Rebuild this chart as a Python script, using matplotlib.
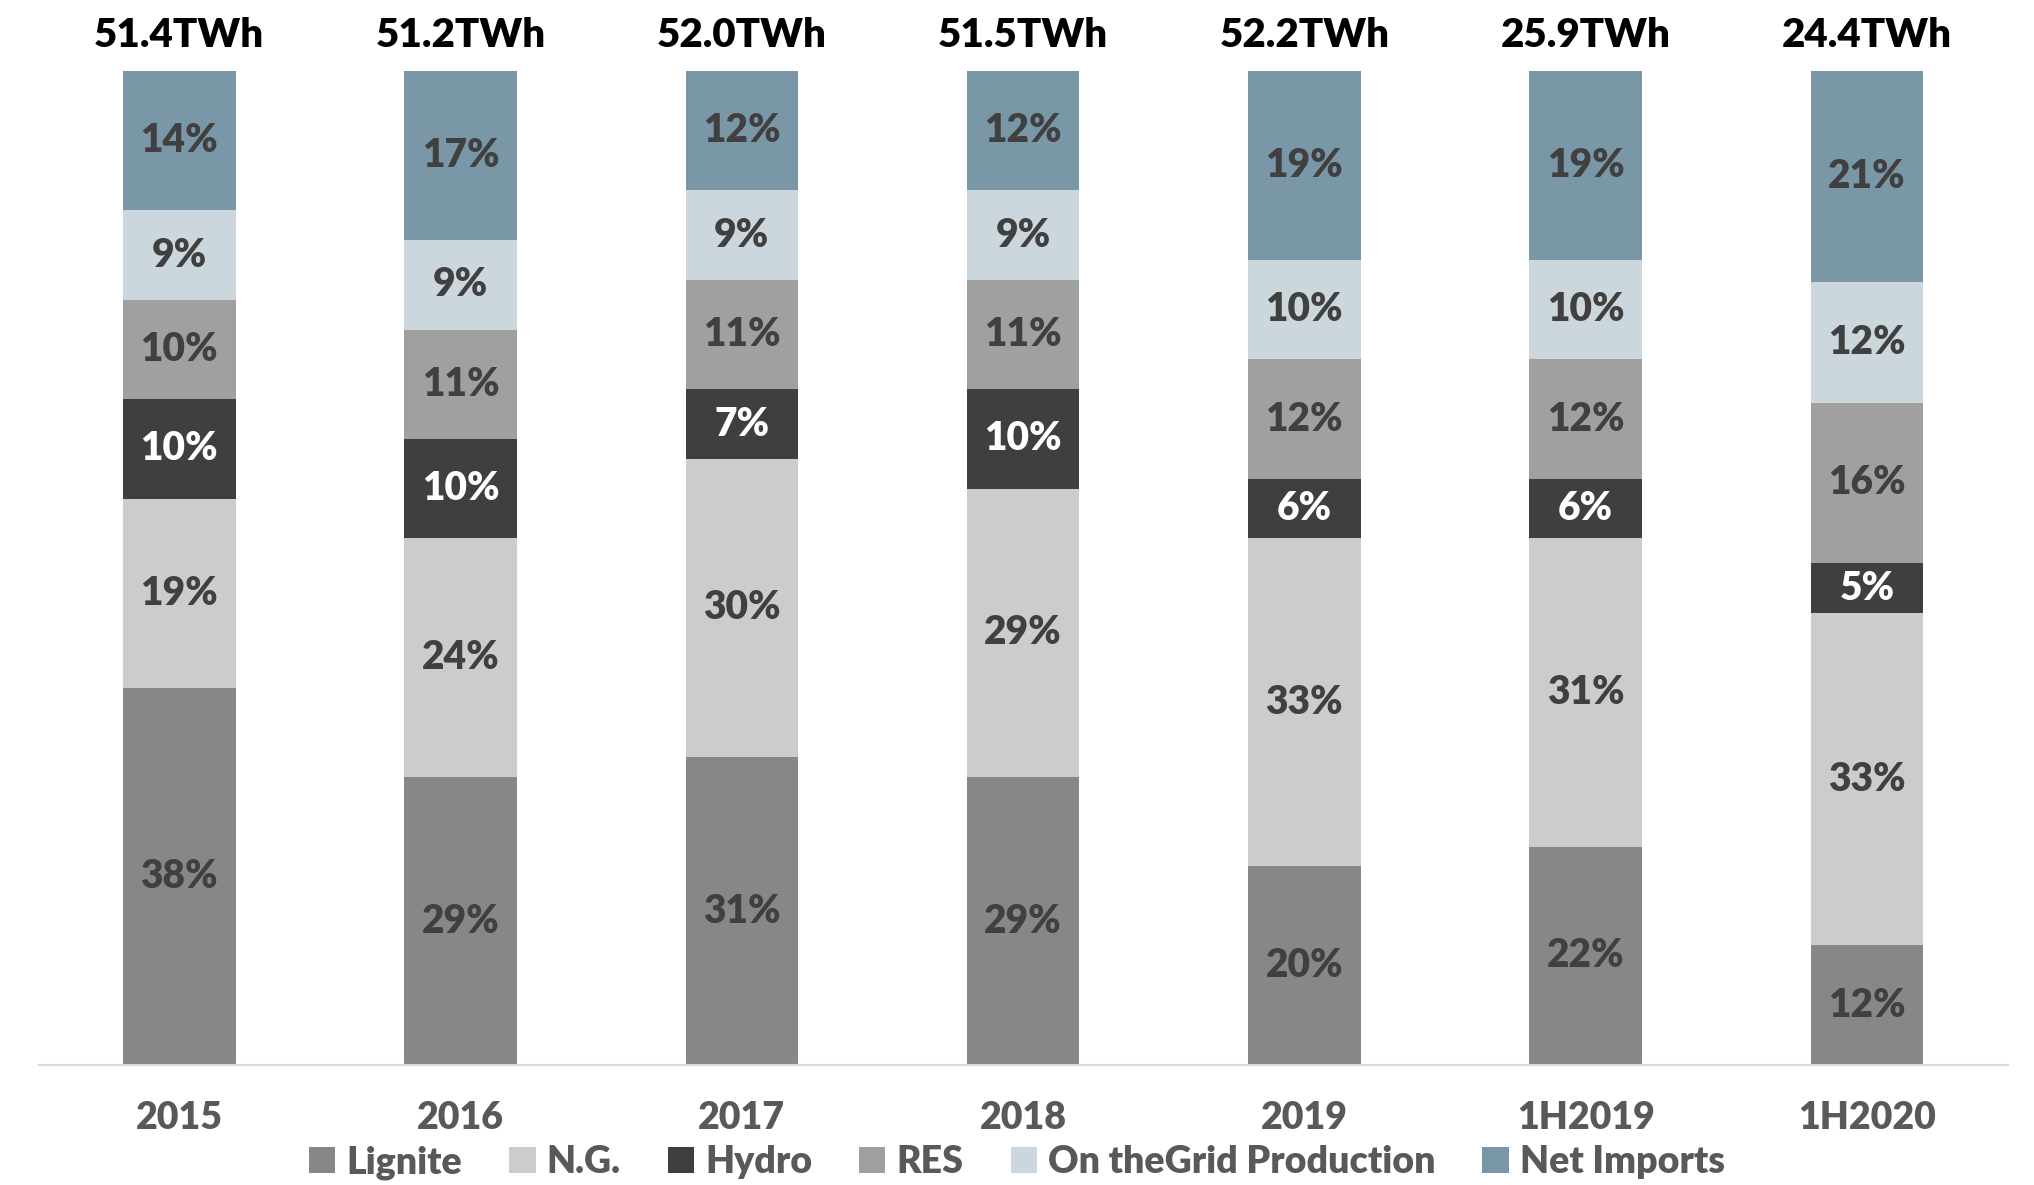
#!/usr/bin/env python3

"""Electricity mix per year, stacked to 100%."""

import matplotlib as mpl
import matplotlib.pyplot as plt
import numpy as np

mpl.use("Agg")
plt.rcParams["font.family"] = ["Lato", "DejaVu Sans"]
plt.rcParams["font.weight"] = "bold"

periods = ["2015", "2016", "2017", "2018", "2019", "1H2019", "1H2020"]
totals = ["51.4TWh", "51.2TWh", "52.0TWh", "51.5TWh", "52.2TWh", "25.9TWh", "24.4TWh"]

sources = ["Lignite", "N.G.", "Hydro", "RES", "On theGrid Production", "Net Imports"]
lignite = [38, 29, 31, 29, 20, 22, 12]
natgas = [19, 24, 30, 29, 33, 31, 33]
hydro = [10, 10, 7, 10, 6, 6, 5]
res = [10, 11, 11, 11, 12, 12, 16]
on_grid = [9, 9, 9, 9, 10, 10, 12]
net_imports = [14, 17, 12, 12, 19, 19, 21]

colors = ["#878787", "#cccccc", "#3f3f3f", "#a0a0a0", "#cbd6dd", "#7a97a8"]
label_colors = ["#404040", "#404040", "#ffffff", "#404040", "#404040", "#404040"]


def main():
    """Entry point."""
    data = np.array([lignite, natgas, hydro, res, on_grid, net_imports], dtype=float)
    # Bars are all drawn to full height
    shares = data / data.sum(axis=0) * 100

    fig = plt.figure(figsize=(20.34, 11.85), dpi=100)
    ax = fig.add_axes([0.019, 0.101, 0.968, 0.839])

    x = np.arange(len(periods))
    bottom = np.zeros(len(periods))
    for i, name in enumerate(sources):
        bars = ax.bar(x, shares[i], 0.4, bottom=bottom, color=colors[i], label=name)
        for j, rect in enumerate(bars):
            ax.text(
                rect.get_x() + rect.get_width() / 2,
                bottom[j] + shares[i][j] / 2,
                f"{data[i][j]:.0f}%",
                ha="center",
                va="center",
                fontsize=28,
                fontweight="heavy",
                color=label_colors[i],
            )
        bottom += shares[i]

    for j, total in enumerate(totals):
        ax.text(x[j], 103.6, total, ha="center", va="center", fontsize=29,
                fontweight="heavy", color="black")

    ax.set_xlim(-0.5, len(periods) - 0.5)
    ax.set_ylim(0, 100)
    ax.set_xticks(x)
    ax.set_xticklabels(periods, fontsize=27, fontweight="heavy", color="#595959")
    ax.tick_params(axis="x", length=0, pad=26)
    ax.set_yticks([])
    for side in ["left", "right", "top"]:
        ax.spines[side].set_visible(False)
    ax.spines["bottom"].set_color("#d9d9d9")
    ax.spines["bottom"].set_linewidth(1.5)

    leg = fig.legend(
        loc="center",
        bbox_to_anchor=(0.5, 0.019),
        ncol=6,
        frameon=False,
        fontsize=27,
        borderpad=0,
        handlelength=0.7,
        handleheight=0.7,
        handletextpad=0.3,
        columnspacing=1.25,
    )
    for t in leg.get_texts():
        t.set_color("#595959")
        t.set_fontweight("heavy")

    fig.savefig("out.png", dpi=100)


if __name__ == "__main__":
    main()
